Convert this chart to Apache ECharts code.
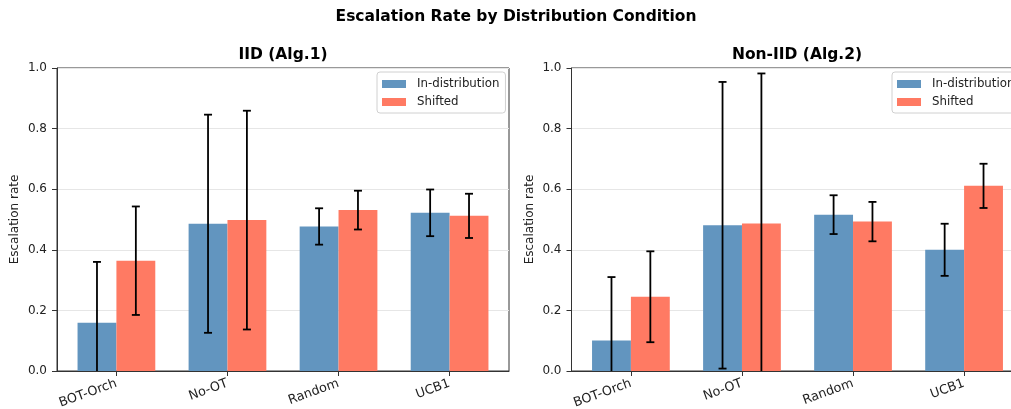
<!DOCTYPE html>
<html>
<head>
<meta charset="utf-8">
<script src="https://cdn.jsdelivr.net/npm/echarts@6/dist/echarts.min.js"></script>
<style>html,body{margin:0;padding:0;background:#fff}#c{width:1011px;height:409px}</style>
</head>
<body>
<div id="c"></div>
<script>
const categories = ['BOT-Orch', 'No-OT', 'Random', 'UCB1'];
const seriesNames = ['In-distribution', 'Shifted'];
const yTicks = [0, 0.2, 0.4, 0.6, 0.8, 1.0];

// IID (Alg.1)
const iidIn = [0.159, 0.486, 0.477, 0.522];
const iidInErr = [0.201, 0.360, 0.060, 0.077];
const iidShift = [0.364, 0.498, 0.531, 0.512];
const iidShiftErr = [0.179, 0.361, 0.064, 0.073];

// Non-IID (Alg.2)
const nonIn = [0.101, 0.481, 0.516, 0.400];
const nonInErr = [0.209, 0.473, 0.064, 0.086];
const nonShift = [0.245, 0.487, 0.493, 0.611];
const nonShiftErr = [0.150, 0.495, 0.065, 0.073];

const BLUE = '#6295bf';
const RED = '#ff7a63';
const FONT = 'DejaVu Sans';
const BW = 0.35;

function barSeries(name, vals, offset, color, idx) {
  return {
    name: name, type: 'custom', xAxisIndex: idx, yAxisIndex: idx,
    itemStyle: { color: color },
    data: vals.map((v, i) => [i, v]),
    renderItem: function (params, api) {
      const x = api.value(0), v = api.value(1);
      const p1 = api.coord([x + offset - BW / 2, v]);
      const p2 = api.coord([x + offset + BW / 2, 0]);
      return { type: 'rect', shape: { x: p1[0], y: p1[1], width: p2[0] - p1[0], height: p2[1] - p1[1] },
        style: { fill: color } };
    }, z: 2
  };
}
function errSeries(vals, errs, offset, idx) {
  return {
    type: 'custom', xAxisIndex: idx, yAxisIndex: idx, silent: true,
    data: vals.map((v, i) => [i, v, errs[i]]),
    renderItem: function (params, api) {
      const x = api.value(0) + offset, v = api.value(1), e = api.value(2);
      const cs = params.coordSys;
      const bottomLimit = cs.y + cs.height;
      const top = api.coord([x, v + e]);
      const bot = api.coord([x, v - e]);
      const yb = Math.min(bot[1], bottomLimit);
      const cap = 4;
      const st = { stroke: '#000', lineWidth: 1.8 };
      const children = [
        { type: 'line', shape: { x1: top[0], y1: top[1], x2: top[0], y2: yb }, style: st },
        { type: 'line', shape: { x1: top[0] - cap, y1: top[1], x2: top[0] + cap, y2: top[1] }, style: st }
      ];
      if (bot[1] <= bottomLimit) {
        children.push({ type: 'line', shape: { x1: top[0] - cap, y1: bot[1], x2: top[0] + cap, y2: bot[1] }, style: st });
      }
      return { type: 'group', children: children };
    }, z: 3
  };
}

const grids = [
  { left: 57, top: 68, width: 452, height: 303, show: true, borderColor: '#333', borderWidth: 1, containLabel: false, outerBoundsMode: 'none' },
  { left: 571.5, top: 68, width: 452, height: 303, show: true, borderColor: '#333', borderWidth: 1, containLabel: false, outerBoundsMode: 'none' }
];
function xAx(idx) {
  return {
    type: 'value', gridIndex: idx, min: -0.535, max: 3.535,
    splitLine: { show: false },
    axisLine: { show: true, onZero: false, lineStyle: { color: '#333', width: 1 } },
    axisTick: { show: true, customValues: [0, 1, 2, 3], length: 5, lineStyle: { color: '#333' } },
    axisLabel: { customValues: [0, 1, 2, 3], rotate: 20, margin: 12, fontFamily: FONT, fontSize: 12.8, color: '#222',
      formatter: v => categories[Math.round(v)] }
  };
}
function yAx(idx) {
  return {
    type: 'value', gridIndex: idx, min: 0, max: 1, interval: 0.2,
    name: 'Escalation rate', nameLocation: 'middle', nameGap: 36,
    nameTextStyle: { fontFamily: FONT, fontSize: 12, color: '#222' },
    axisLine: { show: true, onZero: false, lineStyle: { color: '#333', width: 1 } },
    axisTick: { show: true, length: 5, lineStyle: { color: '#333' } },
    axisLabel: { fontFamily: FONT, fontSize: 12, color: '#222', margin: 10, formatter: v => v.toFixed(1) },
    splitLine: { show: true, lineStyle: { color: '#e6e6e6', width: 1 } }
  };
}
function legend(idx, left) {
  return {
    data: seriesNames.map(n => ({ name: n + (idx ? ' ' : '') })),
    orient: 'vertical', left: left, top: 72,
    padding: [6, 6, 5, 5], itemGap: 6, itemWidth: 24, itemHeight: 8, icon: 'rect',
    borderColor: '#d0d0d0', borderWidth: 1, borderRadius: 3, backgroundColor: 'rgba(255,255,255,0.85)',
    textStyle: { fontFamily: FONT, fontSize: 11.8, color: '#222', lineHeight: 12, padding: [0, 0, 0, 6] },
    selectedMode: false
  };
}

const option = {
  animation: false,
  title: [
    { text: 'Escalation Rate by Distribution Condition', left: 516, top: 9, textAlign: 'center', padding: 0,
      textStyle: { fontFamily: FONT, fontSize: 15.5, fontWeight: 'bold', color: '#000' } },
    { text: 'IID (Alg.1)', left: 283, top: 47, textAlign: 'center', padding: 0,
      textStyle: { fontFamily: FONT, fontSize: 15.5, fontWeight: 'bold', color: '#000' } },
    { text: 'Non-IID (Alg.2)', left: 797, top: 47, textAlign: 'center', padding: 0,
      textStyle: { fontFamily: FONT, fontSize: 15.5, fontWeight: 'bold', color: '#000' } }
  ],
  legend: [legend(0, 377), legend(1, 892)],
  grid: grids,
  xAxis: [xAx(0), xAx(1)],
  yAxis: [yAx(0), yAx(1)],
  series: [
    barSeries(seriesNames[0], iidIn, -BW / 2, BLUE, 0),
    barSeries(seriesNames[1], iidShift, BW / 2, RED, 0),
    errSeries(iidIn, iidInErr, -BW / 2, 0),
    errSeries(iidShift, iidShiftErr, BW / 2, 0),
    barSeries(seriesNames[0] + ' ', nonIn, -BW / 2, BLUE, 1),
    barSeries(seriesNames[1] + ' ', nonShift, BW / 2, RED, 1),
    errSeries(nonIn, nonInErr, -BW / 2, 1),
    errSeries(nonShift, nonShiftErr, BW / 2, 1)
  ]
};
const chart = echarts.init(document.getElementById('c'), null, { renderer: 'canvas' });
chart.setOption(option);
</script>
</body>
</html>
